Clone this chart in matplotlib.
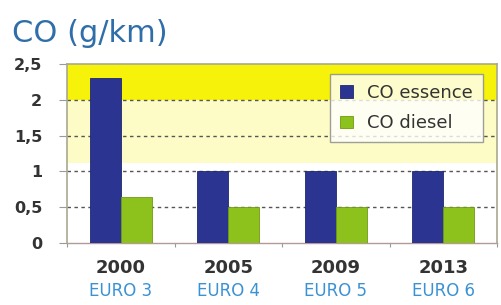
import numpy as np
import matplotlib.pyplot as plt
from matplotlib.transforms import blended_transform_factory

# Données
annees = ['2000', '2005', '2009', '2013']
normes = ['EURO 3', 'EURO 4', 'EURO 5', 'EURO 6']
co_essence = [2.3, 1.0, 1.0, 1.0]
co_diesel = [0.64, 0.5, 0.5, 0.5]
yticks = [0, 0.5, 1, 1.5, 2, 2.5]
ytick_labels = ['0', '0,5', '1', '1,5', '2', '2,5']

bleu = '#2b3490'
vert = '#8dc21c'

fig = plt.figure(figsize=(5.01, 3.05), dpi=100)
ax = fig.add_axes([0.134, 0.203, 0.858, 0.587])

x = np.arange(len(annees))
w = 0.29

# fond jaune dégradé (deux bandes)
ax.axhspan(2.0, 2.5, color='#f6f20a', zorder=0, lw=0)
ax.axhspan(1.12, 2.0, color='#fdfcc6', zorder=0, lw=0)

ax.bar(x - w/2, co_essence, w, color=bleu, edgecolor='#1f2870', lw=0.6,
       label='CO essence', zorder=3)
ax.bar(x + w/2, co_diesel, w, color=vert, edgecolor='#6f9a12', lw=0.6,
       label='CO diesel', zorder=3)

ax.set_xlim(-0.5, len(annees) - 0.5)
ax.set_ylim(0, 2.5)

# grille pointillée
for v in yticks[1:-1]:
    ax.axhline(v, color='#555555', lw=1.0, ls=(0, (2.5, 2.5)), zorder=1)

ax.set_yticks(yticks)
ax.set_yticklabels(ytick_labels, fontsize=11.5, fontweight='bold',
                   color='#333333', family='DejaVu Sans')
ax.tick_params(axis='y', length=6, width=0.8, color='#999999', pad=12)

ax.set_xticks(np.arange(len(annees) + 1) - 0.5)
ax.set_xticklabels([])
ax.tick_params(axis='x', length=3, width=0.8, color='#999999')

for s in ['top', 'right', 'left']:
    ax.spines[s].set_color('#a8a890')
    ax.spines[s].set_linewidth(1.2)
ax.spines['bottom'].set_color('#b09a9a')
ax.spines['bottom'].set_linewidth(1.0)

trans = blended_transform_factory(ax.transData, ax.transAxes)
for i in range(len(annees)):
    ax.text(x[i], -0.14, annees[i], transform=trans, ha='center', va='center',
            fontsize=13, fontweight='bold', color='#333333')
    ax.text(x[i], -0.27, normes[i], transform=trans, ha='center', va='center',
            fontsize=12, color='#3a92d4')

fig.text(0.024, 0.89, 'CO (g/km)', fontsize=22, color='#2f6ea8',
         ha='left', va='center')

leg = ax.legend(loc='upper right', bbox_to_anchor=(0.967, 0.945),
                fontsize=13, frameon=True, fancybox=False,
                handlelength=0.7, handleheight=0.7, handletextpad=0.8,
                labelspacing=0.7, borderpad=0.55, borderaxespad=0)
leg.get_frame().set_edgecolor('#888888')
leg.get_frame().set_linewidth(1.0)
for t in leg.get_texts():
    t.set_color('#333333')
leg.set_zorder(5)

plt.savefig('out.png', dpi=100)
